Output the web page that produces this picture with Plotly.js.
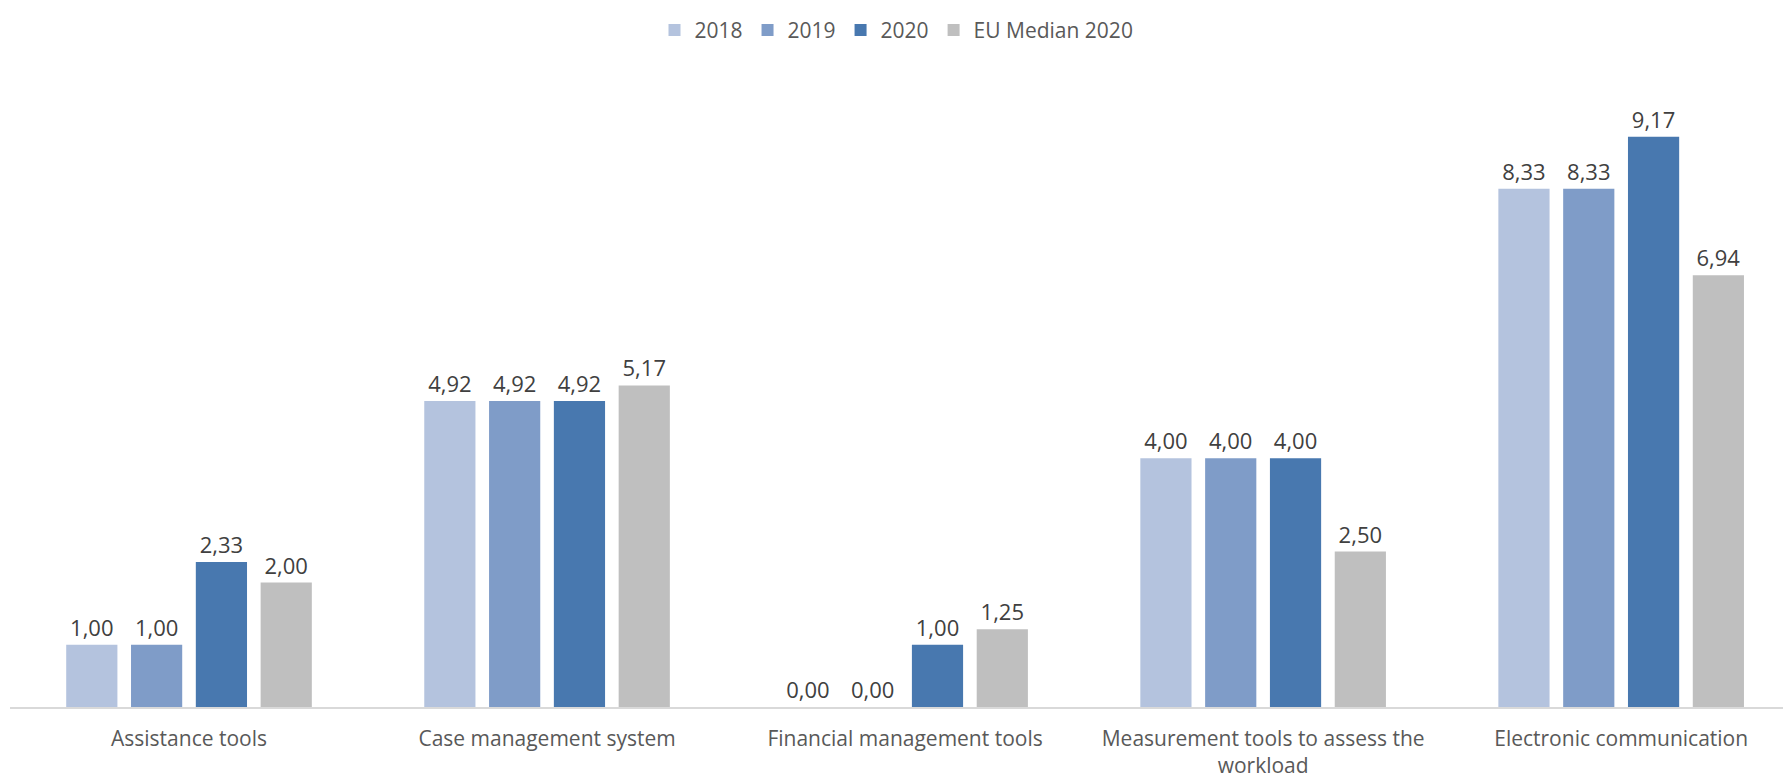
<!DOCTYPE html>
<html><head><meta charset="utf-8">
<script src="https://cdn.plot.ly/plotly-3.0.1.min.js"></script>
<style>html,body{margin:0;padding:0;background:#fff}#chart{width:1783px;height:778px}</style>
</head><body><div id="chart"></div>
<script>
const categories = ["Assistance tools","Case management system","Financial management tools","Measurement tools to assess the<br>workload","Electronic communication"];
const seriesNames = ["2018","2019","2020","EU Median 2020"];
const v2018 = [1.00, 4.92, 0.00, 4.00, 8.33];
const v2019 = [1.00, 4.92, 0.00, 4.00, 8.33];
const v2020 = [2.33, 4.92, 1.00, 4.00, 9.17];
const vEU   = [2.00, 5.17, 1.25, 2.50, 6.94];
const colors = ["#B4C3DE","#7F9CC8","#4878AF","#BFBFBF"];
const allValues = [v2018, v2019, v2020, vEU];
const fam = "Open Sans, Noto Sans, sans-serif";
const traces = allValues.map((vals,i)=>({
  type:"bar", name:seriesNames[i], x:categories, y:vals,
  marker:{color:colors[i]},
  text: vals.map(v=>v.toFixed(2).replace('.',',')),
  textposition:"outside", cliponaxis:false,
  textfont:{family:fam,color:"#404040",size:22},
  hoverinfo:"none"
}));
const layout = {
  width:1783, height:778,
  margin:{l:10,r:0,t:85,b:71},
  barmode:"group", bargap:0.276, bargroupgap:0.21,
  separators:",.",
  font:{family:fam,color:"#595959",size:21},
  paper_bgcolor:"#fff", plot_bgcolor:"#fff",
  showlegend:true,
  legend:{orientation:"h", x:0.5, xanchor:"center", y:1.088, yref:"paper", yanchor:"middle", font:{size:21,color:"#595959"}, traceorder:"normal"},
  xaxis:{range:[-0.5, 4.452], showline:true, linecolor:"#D9D9D9", linewidth:1.5, ticks:"", ticklabelstandoff:12, tickfont:{size:21,color:"#595959"}, showgrid:false, zeroline:false},
  yaxis:{range:[0,10], visible:false, showgrid:false, zeroline:false}
};
Plotly.newPlot("chart", traces, layout, {displayModeBar:false, staticPlot:true});
</script></body></html>
